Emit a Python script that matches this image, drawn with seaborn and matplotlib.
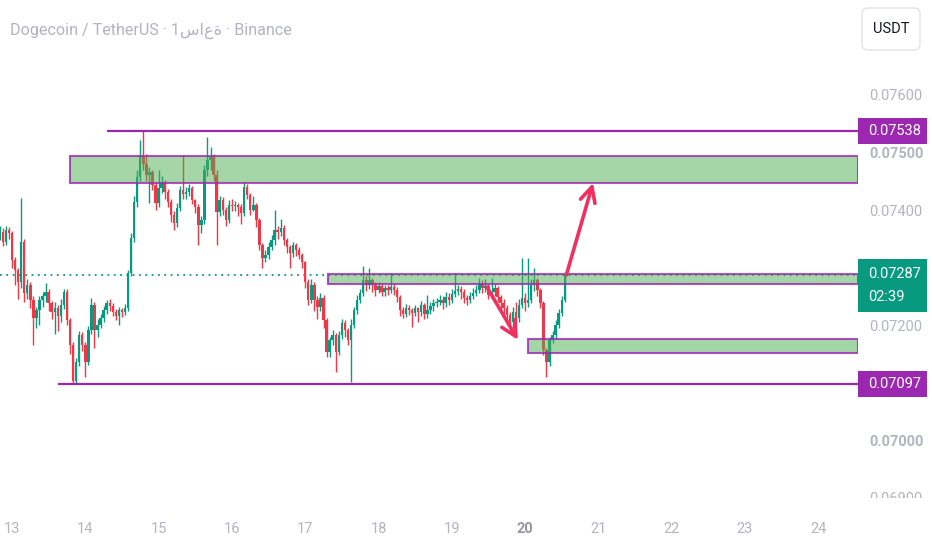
import matplotlib
matplotlib.use("Agg")
import matplotlib.pyplot as plt
import matplotlib.dates as mdates
from matplotlib.patches import Rectangle, FancyBboxPatch
from matplotlib.transforms import blended_transform_factory, Bbox
import numpy as np
import pandas as pd
import seaborn as sns

# hourly DOGE/USDT candles, prices in 1e-5 USDT
START = "2025-01-12 20:00"
FIRST_OPEN = 7355
closes = [
    7362, 7344, 7365, 7360, 7313, 7295, 7275, 7344, 7255, 7269,
    7243, 7212, 7226, 7243, 7250, 7257, 7238, 7222, 7229, 7215,
    7235, 7257, 7208, 7165, 7102, 7135, 7182, 7165, 7135, 7191,
    7235, 7191, 7200, 7212, 7226, 7238, 7233, 7222, 7215, 7226,
    7222, 7229, 7290, 7351, 7414, 7457, 7492, 7480, 7461, 7466,
    7443, 7412, 7438, 7447, 7431, 7414, 7391, 7377, 7403, 7435,
    7428, 7431, 7438, 7417, 7405, 7374, 7382, 7469, 7487, 7492,
    7461, 7396, 7417, 7400, 7382, 7409, 7407, 7409, 7405,
    7395, 7440, 7426, 7400, 7409, 7382, 7339, 7316, 7322, 7336,
    7348, 7365, 7362, 7369, 7348, 7336, 7325, 7339, 7330, 7322,
    7309, 7275, 7243, 7269, 7243, 7231, 7247, 7208, 7153, 7174,
    7182, 7153, 7182, 7203, 7191, 7174, 7200, 7226, 7243, 7255,
    7278, 7269, 7278, 7269, 7261, 7268, 7257, 7264, 7261, 7266,
    7261, 7249, 7226, 7219, 7229, 7226, 7221, 7229, 7222, 7235,
    7219, 7226, 7233, 7238, 7240, 7243, 7238, 7249, 7243,
    7254, 7259, 7262, 7257, 7247, 7243, 7250, 7255, 7261, 7271,
    7264, 7268, 7252, 7257, 7264, 7249, 7238, 7229, 7217, 7205,
    7222, 7212, 7235, 7247, 7238, 7243, 7269, 7278, 7261, 7238,
    7156, 7135, 7174, 7182, 7200, 7221, 7243, 7287,
]
highs = [
    7372, 7368, 7372, 7370, 7364, 7318, 7300, 7421, 7350, 7280,
    7275, 7250, 7232, 7250, 7258, 7273, 7262, 7242, 7240, 7235,
    7245, 7262, 7262, 7212, 7170, 7142, 7190, 7188, 7170, 7198,
    7247, 7240, 7210, 7220, 7233, 7243, 7245, 7238, 7228, 7232,
    7230, 7236, 7296, 7360, 7425, 7470, 7522, 7538, 7498, 7475,
    7470, 7448, 7470, 7460, 7452, 7436, 7420, 7398, 7412, 7442,
    7495, 7440, 7445, 7442, 7420, 7410, 7390, 7478, 7527, 7510,
    7498, 7470, 7425, 7422, 7405, 7418, 7420, 7415, 7412,
    7410, 7448, 7445, 7430, 7425, 7413, 7386, 7343, 7330, 7345,
    7356, 7400, 7372, 7385, 7374, 7352, 7340, 7345, 7342, 7335,
    7325, 7312, 7280, 7280, 7275, 7250, 7255, 7252, 7212, 7180,
    7192, 7186, 7190, 7210, 7208, 7195, 7210, 7232, 7252, 7262,
    7302, 7285, 7300, 7282, 7275, 7275, 7272, 7270, 7270, 7290,
    7272, 7266, 7252, 7232, 7236, 7234, 7230, 7235, 7232, 7242,
    7238, 7252, 7240, 7245, 7247, 7252, 7250, 7258, 7255,
    7262, 7290, 7270, 7268, 7262, 7252, 7258, 7265, 7270, 7282,
    7278, 7280, 7272, 7282, 7272, 7268, 7253, 7245, 7235, 7222,
    7232, 7240, 7245, 7316, 7255, 7316, 7280, 7300, 7282, 7265,
    7242, 7160, 7180, 7190, 7208, 7228, 7250, 7292,
]
lows = [
    7348, 7338, 7340, 7350, 7300, 7270, 7245, 7265, 7240, 7245,
    7230, 7165, 7195, 7200, 7232, 7240, 7225, 7210, 7185, 7190,
    7205, 7228, 7200, 7150, 7097, 7097, 7128, 7155, 7110, 7130,
    7185, 7160, 7180, 7195, 7205, 7220, 7225, 7215, 7208, 7200,
    7214, 7218, 7225, 7285, 7345, 7405, 7450, 7470, 7450, 7412,
    7435, 7400, 7405, 7430, 7420, 7405, 7380, 7365, 7370, 7398,
    7420, 7420, 7425, 7410, 7395, 7340, 7360, 7375, 7460, 7470,
    7450, 7340, 7390, 7392, 7372, 7378, 7398, 7398, 7390,
    7375, 7390, 7420, 7392, 7398, 7370, 7330, 7300, 7310, 7315,
    7330, 7340, 7350, 7355, 7340, 7325, 7300, 7318, 7320, 7315,
    7300, 7265, 7235, 7238, 7225, 7210, 7225, 7195, 7145, 7145,
    7165, 7118, 7148, 7175, 7180, 7165, 7101, 7195, 7220, 7238,
    7250, 7260, 7262, 7258, 7250, 7255, 7250, 7250, 7252, 7255,
    7252, 7240, 7215, 7212, 7214, 7218, 7196, 7215, 7205, 7215,
    7210, 7212, 7220, 7225, 7232, 7235, 7228, 7232, 7235,
    7238, 7248, 7252, 7245, 7238, 7235, 7238, 7245, 7250, 7255,
    7255, 7258, 7245, 7245, 7250, 7240, 7228, 7215, 7200, 7190,
    7195, 7195, 7205, 7230, 7225, 7232, 7238, 7260, 7250, 7230,
    7148, 7109, 7128, 7168, 7175, 7195, 7215, 7240,
]

# scale labels that are not hidden behind a price tag
PRICE_TICKS = [0.069, 0.070, 0.072, 0.074, 0.075, 0.076]
BOLD_TICKS = [0.070, 0.075]
DAY_TICKS = list(range(13, 25))

RESISTANCE = 0.07538
SUPPORT = 0.07097
LAST_PRICE = 0.07287
COUNTDOWN = "02:39"
RES_START = "2025-01-14 07:00"
SUP_START = "2025-01-13 15:00"

# (start, top, bottom) of the drawn zones, they run to the right edge
zones = [
    ("2025-01-13 19:00", 0.07494, 0.07447),
    ("2025-01-17 07:30", 0.07288, 0.07272),
    ("2025-01-20 01:00", 0.07175, 0.07151),
]
# hand-drawn arrows (from, to)
arrows = [
    (("2025-01-19 11:30", 0.07266), ("2025-01-19 21:40", 0.07174)),
    (("2025-01-20 13:30", 0.07287), ("2025-01-20 22:15", 0.07447)),
]

TITLE = "Dogecoin / TetherUS · 1ساعة · Binance"

GREEN = "#089981"
RED = "#F23645"
PURPLE = "#9c27b0"
GREY = "#b2b5be"
ARROW = "#f0305f"

sns.set_theme(style="white")
plt.rcParams["font.family"] = ["Roboto", "DejaVu Sans"]

df = pd.DataFrame({
    "time": pd.date_range(START, periods=len(closes), freq="h"),
    "close": np.array(closes) / 1e5,
    "high": np.array(highs) / 1e5,
    "low": np.array(lows) / 1e5,
})
df["open"] = np.r_[FIRST_OPEN / 1e5, df["close"].values[:-1]]
df["x"] = mdates.date2num(df["time"])
up = df["close"] >= df["open"]
colors = np.where(up, GREEN, RED)

fig = plt.figure(figsize=(9.32, 5.5), dpi=100)
ax = fig.add_axes([0, 50 / 550, 858 / 932, 500 / 550])

day0 = mdates.date2num(pd.Timestamp("2025-01-13"))
ax.set_xlim(day0 - 12 / 73.3, day0 + 846 / 73.3)
ymin, ymax = 0.068957, 0.077652
ax.set_ylim(ymin, ymax)
px = (ymax - ymin) / 500  # price per pixel
x_right = ax.get_xlim()[1]

# last price dotted line
ax.axhline(LAST_PRICE, color=GREEN, lw=1.3, ls=(0, (1, 2.5)), zorder=1)

# candles
ax.vlines(df["x"], df["low"], df["high"], colors=colors, lw=1, zorder=2)
ax.bar(df["x"], (df["close"] - df["open"]).abs(), bottom=df[["open", "close"]].min(axis=1),
       width=0.8 / 24, color=colors, linewidth=0, zorder=3)

# zones
for start, top, bottom in zones:
    x0 = mdates.date2num(pd.Timestamp(start))
    ax.add_patch(Rectangle((x0, bottom), x_right - x0, top - bottom,
                           facecolor=(0.298, 0.686, 0.314, 0.5),
                           edgecolor=(0.612, 0.153, 0.690, 0.8), lw=1.5, zorder=4))

# horizontal levels
for level, start in [(RESISTANCE, RES_START), (SUPPORT, SUP_START)]:
    x0 = mdates.date2num(pd.Timestamp(start))
    ax.hlines(level, x0, x_right, color=PURPLE, lw=1.6, zorder=5)

for (t0, p0), (t1, p1) in arrows:
    ax.annotate("", xy=(mdates.date2num(pd.Timestamp(t1)), p1),
                xytext=(mdates.date2num(pd.Timestamp(t0)), p0),
                arrowprops=dict(arrowstyle="->,head_length=0.9,head_width=0.45",
                                color=ARROW, lw=2.6, shrinkA=0, shrinkB=0),
                zorder=6)

# axes styling
sns.despine(ax=ax, left=True, bottom=True, right=True, top=True)
ax.yaxis.tick_right()
ax.set_yticks(PRICE_TICKS)
ax.set_yticklabels([f"{p:.5f}" for p in PRICE_TICKS])
ax.set_xticks([mdates.date2num(pd.Timestamp(f"2025-01-{d:02d}")) for d in DAY_TICKS])
ax.set_xticklabels([str(d) for d in DAY_TICKS])
ax.tick_params(axis="y", length=0, pad=8, labelsize=10.5, labelcolor=GREY)
ax.tick_params(axis="x", length=0, pad=16, labelsize=10.5, labelcolor=GREY)
ax.grid(False)

clip = Bbox.from_extents(0, 52, 932, 550)
for tick, p in zip(ax.yaxis.get_major_ticks(), PRICE_TICKS):
    if any(abs(p - b) < 1e-9 for b in BOLD_TICKS):
        tick.label2.set_fontweight("bold")
    tick.label2.set_clip_box(clip)
    tick.label2.set_clip_on(True)
for tick, d in zip(ax.xaxis.get_major_ticks(), DAY_TICKS):
    if d == 20:
        tick.label1.set_fontweight("bold")
        tick.label1.set_color("#9598a1")

# price tags on the scale
tr = blended_transform_factory(fig.transFigure, ax.transData)
bx0, bx1 = 858 / 932, 927 / 932
tx = 868 / 932
for level in (RESISTANCE, SUPPORT):
    ax.add_patch(Rectangle((bx0, level - 13 * px), bx1 - bx0, 26 * px, transform=tr,
                           facecolor=PURPLE, edgecolor="none", clip_on=False, zorder=7))
    ax.text(tx, level, f"{level:.5f}", transform=tr, color="white", fontsize=10.5,
            va="center", ha="left", zorder=8, clip_on=False)
ax.add_patch(Rectangle((bx0, LAST_PRICE - 37 * px), bx1 - bx0, 53 * px, transform=tr,
                       facecolor=GREEN, edgecolor="none", clip_on=False, zorder=7))
ax.text(tx, LAST_PRICE + 1 * px, f"{LAST_PRICE:.5f}", transform=tr, color="white",
        fontsize=10.5, va="center", ha="left", zorder=8, clip_on=False)
ax.text(tx, LAST_PRICE - 22 * px, COUNTDOWN, transform=tr, color="white",
        fontsize=10.5, va="center", ha="left", zorder=8, clip_on=False)

# currency button
fig.patches.append(FancyBboxPatch((8.62, 5.0), 0.58, 0.42,
                                  boxstyle="round,pad=0,rounding_size=0.06",
                                  transform=fig.dpi_scale_trans, facecolor="white",
                                  edgecolor="#e0e3eb", lw=1))
fig.text(8.91, 5.21, "USDT", transform=fig.dpi_scale_trans, ha="center", va="center",
         fontsize=10.5, color="#131722")

fig.text(10 / 932, 1 - 31 / 550, TITLE, ha="left", va="center", fontsize=11.6,
         color=GREY)

fig.savefig("out.png", dpi=100, facecolor="white")
